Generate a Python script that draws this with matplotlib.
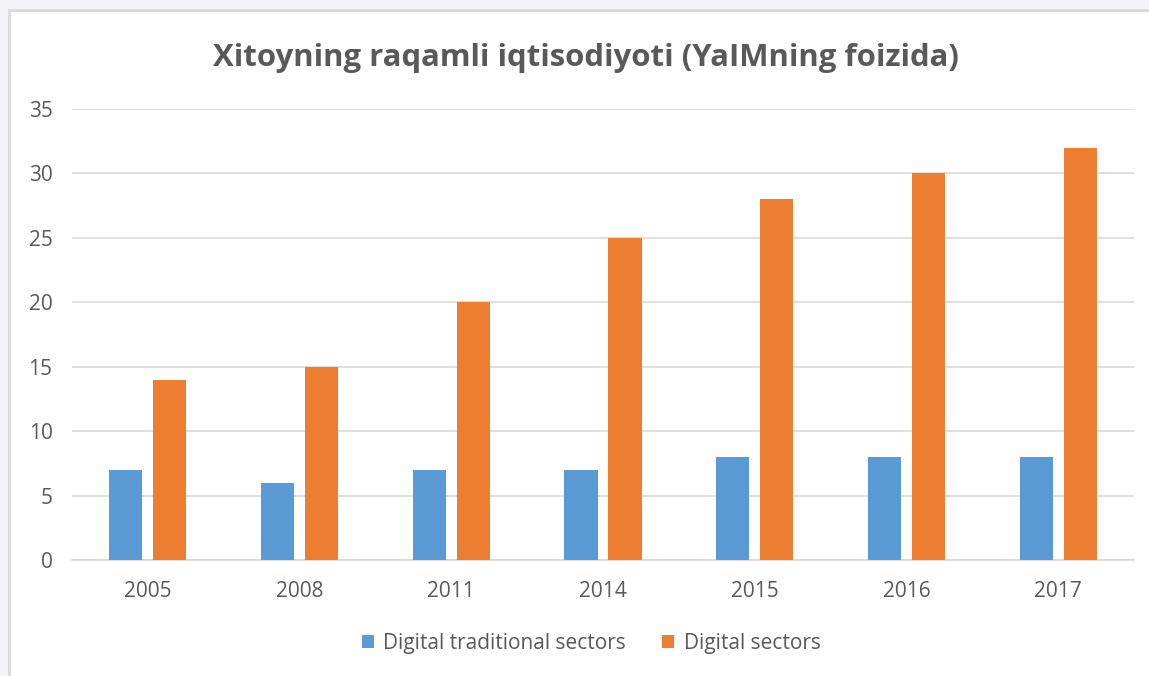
import matplotlib
matplotlib.use("Agg")
import matplotlib.pyplot as plt
from matplotlib.patches import Rectangle
import numpy as np

years = ["2005", "2008", "2011", "2014", "2015", "2016", "2017"]
traditional = [7, 6, 7, 7, 8, 8, 8]
digital = [14, 15, 20, 25, 28, 30, 32]
series_names = ["Digital traditional sectors", "Digital sectors"]
title = "Xitoyning raqamli iqtisodiyoti (YaIMning foizida)"

W, H = 1149, 676
plt.rcParams['font.family'] = ['Open Sans', 'DejaVu Sans']
fig = plt.figure(figsize=(W / 100, H / 100), dpi=100)
fig.patch.set_facecolor("#f4f4f8")

# white chart frame
frame = Rectangle((9 / W, -0.05), 1.1, (H - 10) / H + 0.05, transform=fig.transFigure,
                  facecolor="white", edgecolor="#d9d9d9", linewidth=2, zorder=-5)
fig.patches.append(frame)

ax = fig.add_axes([72 / W, (H - 560) / H, (1134 - 72) / W, (560 - 109) / H])
ax.set_facecolor("none")
ax.set_zorder(2)

x = np.arange(len(years))
bw = 0.218
off = 0.145
ax.bar(x - off, traditional, bw, color="#5b9bd5", label=series_names[0], zorder=3)
ax.bar(x + off, digital, bw, color="#ed7d31", label=series_names[1], zorder=3)

ax.set_xlim(-0.5, len(years) - 0.5)
ax.set_ylim(0, 35)
ax.set_yticks(range(0, 36, 5))
ax.set_xticks(x)
ax.set_xticklabels(years)
ax.yaxis.grid(True, color="#d9d9d9", linewidth=1.2, zorder=0)
ax.set_axisbelow(True)
for s in ["top", "right", "left"]:
    ax.spines[s].set_visible(False)
ax.spines["bottom"].set_color("#d9d9d9")
ax.spines["bottom"].set_linewidth(1.2)
ax.tick_params(axis="both", length=0, labelsize=15, labelcolor="#595959")
ax.tick_params(axis="y", pad=14)
ax.tick_params(axis="x", pad=15)

fig.text(586 / W, 1 - 58 / H, title, ha="center", va="center", fontsize=22.4,
         fontweight="bold", color="#595959")

leg = fig.legend(loc="center", bbox_to_anchor=(591 / W, 1 - 643 / H), ncol=2,
                 frameon=False, fontsize=15, handlelength=0.6, handleheight=0.6,
                 handletextpad=0.45, columnspacing=1.7, labelcolor="#595959")

fig.savefig("out.png", dpi=100, facecolor=fig.get_facecolor())
